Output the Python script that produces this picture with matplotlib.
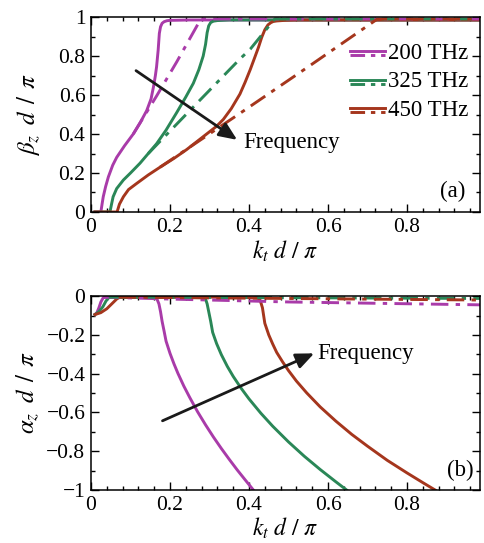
import matplotlib
matplotlib.use("Agg")
import matplotlib.pyplot as plt
from matplotlib.ticker import MultipleLocator, FuncFormatter

# ---------------------------
# DATA
# ---------------------------
freqs = ["200 THz", "325 THz", "450 THz"]
colors = ["#a93ba9", "#2a8757", "#a5361d"]

# (a) beta_z d / pi vs k_t d / pi, solid
beta_200_x = [0.010, 0.025, 0.028, 0.031, 0.037, 0.044, 0.055, 0.065, 0.085, 0.107, 0.125, 0.141,
              0.152, 0.158, 0.163, 0.166, 0.170, 0.173, 0.176, 0.180, 0.185, 0.192, 0.20, 0.25, 0.99]
beta_200_y = [0, 0, 0.04, 0.078, 0.13, 0.18, 0.24, 0.28, 0.34, 0.40, 0.46, 0.52,
              0.58, 0.64, 0.70, 0.745, 0.83, 0.916, 0.95, 0.968, 0.976, 0.981, 0.983, 0.985, 0.985]
beta_325_x = [0.010, 0.048, 0.052, 0.056, 0.065, 0.082, 0.10, 0.124, 0.145, 0.166, 0.19, 0.217,
              0.24, 0.259, 0.273, 0.284, 0.290, 0.294, 0.298, 0.303, 0.310, 0.32, 0.35, 0.99]
beta_325_y = [0, 0, 0.04, 0.078, 0.12, 0.164, 0.20, 0.25, 0.30, 0.35, 0.42, 0.51,
              0.59, 0.66, 0.73, 0.80, 0.86, 0.92, 0.955, 0.972, 0.979, 0.982, 0.985, 0.985]
beta_450_x = [0.010, 0.066, 0.072, 0.082, 0.095, 0.116, 0.145, 0.175, 0.21, 0.242, 0.28, 0.318,
              0.335, 0.355, 0.377, 0.39, 0.403, 0.414, 0.424, 0.432, 0.44, 0.448, 0.455, 0.461,
              0.47, 0.49, 0.52, 0.99]
beta_450_y = [0, 0, 0.04, 0.078, 0.115, 0.147, 0.19, 0.23, 0.275, 0.32, 0.38, 0.44,
              0.475, 0.53, 0.605, 0.665, 0.73, 0.79, 0.845, 0.895, 0.935, 0.96, 0.971, 0.977,
              0.980, 0.983, 0.985, 0.985]

# (a) dash-dot
beta_200_dd_x = [0.107, 0.166, 0.217, 0.278, 0.99]
beta_200_dd_y = [0.40, 0.595, 0.77, 0.99, 0.99]
beta_325_dd_x = [0.145, 0.25, 0.377, 0.403, 0.465, 0.99]
beta_325_dd_y = [0.30, 0.52, 0.785, 0.835, 0.99, 0.99]
beta_450_dd_x = [0.175, 0.377, 0.55, 0.725, 0.99]
beta_450_dd_y = [0.23, 0.506, 0.745, 0.99, 0.99]

# (b) alpha_z d / pi vs k_t d / pi, solid
alpha_200_x = [0.010, 0.015, 0.020, 0.025, 0.031, 0.040, 0.10, 0.160, 0.167, 0.172, 0.176, 0.180,
               0.185, 0.19, 0.20, 0.21, 0.22, 0.235, 0.25, 0.27, 0.29, 0.31, 0.33, 0.35, 0.37,
               0.39, 0.411]
alpha_200_y = [-0.095, -0.085, -0.06, -0.03, -0.008, -0.005, -0.005, -0.008, -0.015, -0.04, -0.08, -0.13,
               -0.18, -0.232, -0.295, -0.349, -0.398, -0.464, -0.523, -0.597, -0.664, -0.727, -0.786,
               -0.842, -0.896, -0.947, -1.0]
alpha_325_x = [0.010, 0.020, 0.030, 0.038, 0.045, 0.050, 0.10, 0.20, 0.285, 0.290, 0.294, 0.298,
               0.303, 0.308, 0.318, 0.33, 0.345, 0.36, 0.38, 0.40, 0.43, 0.46, 0.50, 0.54, 0.58,
               0.62, 0.647]
alpha_325_y = [-0.095, -0.08, -0.055, -0.025, -0.008, -0.005, -0.005, -0.005, -0.008, -0.015, -0.04, -0.08,
               -0.13, -0.187, -0.245, -0.302, -0.362, -0.414, -0.475, -0.530, -0.604, -0.671, -0.752,
               -0.826, -0.894, -0.958, -1.0]
alpha_450_x = [0.010, 0.025, 0.040, 0.055, 0.065, 0.072, 0.10, 0.30, 0.42, 0.428, 0.434, 0.44,
               0.45, 0.46, 0.47, 0.485, 0.50, 0.52, 0.546, 0.58, 0.62, 0.66, 0.70, 0.75, 0.80,
               0.84, 0.871]
alpha_450_y = [-0.095, -0.085, -0.065, -0.035, -0.015, -0.006, -0.005, -0.005, -0.008, -0.02, -0.06, -0.14,
               -0.20, -0.247, -0.29, -0.339, -0.384, -0.438, -0.499, -0.571, -0.645, -0.713, -0.774,
               -0.847, -0.912, -0.962, -1.0]

# (b) dash-dot
alpha_200_dd_x = [0.03, 0.2, 0.5, 0.99]
alpha_200_dd_y = [-0.005, -0.015, -0.03, -0.045]
alpha_325_dd_x = [0.045, 0.5, 0.99]
alpha_325_dd_y = [-0.005, -0.008, -0.012]
alpha_450_dd_x = [0.07, 0.5, 0.99]
alpha_450_dd_y = [-0.005, -0.012, -0.02]

# ---------------------------
# STYLE
# ---------------------------
plt.rcParams["font.family"] = ["Liberation Serif", "DejaVu Serif"]
plt.rcParams["mathtext.fontset"] = "stix"
plt.rcParams["font.size"] = 15.5

DASHDOT = (0, (6, 2.5, 1.5, 2.5))
LW = 2.1
TXT = 16.5

fig = plt.figure(figsize=(4.84, 5.43), dpi=100)
ax_a = fig.add_axes([0.188, 0.6096, 0.804, 0.359])
ax_b = fig.add_axes([0.188, 0.0976, 0.804, 0.357])


def fmt(v, pos):
    if abs(v - round(v)) < 1e-9:
        return "%d" % round(v) if round(v) >= 0 else "\u2212%d" % abs(round(v))
    s = "%.1f" % v
    return s.replace("-", "\u2212")


for ax in (ax_a, ax_b):
    ax.set_xlim(0, 0.985)
    ax.xaxis.set_major_locator(MultipleLocator(0.2))
    ax.xaxis.set_minor_locator(MultipleLocator(0.04))
    ax.yaxis.set_major_locator(MultipleLocator(0.2))
    ax.yaxis.set_minor_locator(MultipleLocator(0.1))
    ax.xaxis.set_major_formatter(FuncFormatter(fmt))
    ax.yaxis.set_major_formatter(FuncFormatter(fmt))
    ax.tick_params(which="both", direction="in", top=True, right=True, width=1.0)
    ax.tick_params(which="major", length=6, labelsize=15.5, pad=4)
    ax.tick_params(which="minor", length=3)
    for sp in ax.spines.values():
        sp.set_linewidth(1.1)
    ax.set_xlabel(r"$k_t\ d\ /\ \pi$", fontsize=17)
    ax.xaxis.set_label_coords(0.5, -0.135)
    ax.yaxis.set_label_coords(-0.125, 0.5)

# ---------------------------
# (a)
# ---------------------------
ax_a.set_ylim(0, 1)
for xs, ys, c in zip([beta_200_x, beta_325_x, beta_450_x],
                     [beta_200_y, beta_325_y, beta_450_y], colors):
    ax_a.plot(xs, ys, color=c, lw=LW)
for xs, ys, c in zip([beta_200_dd_x, beta_325_dd_x, beta_450_dd_x],
                     [beta_200_dd_y, beta_325_dd_y, beta_450_dd_y], colors):
    ax_a.plot(xs, ys, color=c, lw=LW, ls=DASHDOT)
ax_a.set_ylabel(r"$\beta_z\;\;d\;\,/\;\,\pi$", fontsize=18)

ax_a.annotate("", xy=(0.37, 0.37), xytext=(0.114, 0.725),
              arrowprops=dict(arrowstyle="-|>,head_length=0.7,head_width=0.3",
                              color="#1a1a1a", lw=2.0, shrinkA=0, shrinkB=0))
ax_a.text(0.385, 0.355, "Frequency", fontsize=TXT, va="center", ha="left")
ax_a.text(0.93, 0.105, "(a)", transform=ax_a.transAxes, fontsize=TXT, ha="center", va="center")

# legend, drawn by hand: solid over dash-dot for each frequency
leg_y = [0.815, 0.668, 0.523]
for lab, c, yy in zip(freqs, colors, leg_y):
    ax_a.plot([0.666, 0.756], [yy + 0.011, yy + 0.011], color=c, lw=LW, transform=ax_a.transAxes)
    ax_a.plot([0.666, 0.756], [yy - 0.011, yy - 0.011], color=c, lw=LW, ls=(0, (5, 2, 1.5, 2)),
              transform=ax_a.transAxes)
    ax_a.text(0.762, yy, lab, transform=ax_a.transAxes, fontsize=TXT, va="center", ha="left")

# ---------------------------
# (b)
# ---------------------------
ax_b.set_ylim(-1, 0)
for xs, ys, c in zip([alpha_200_x, alpha_325_x, alpha_450_x],
                     [alpha_200_y, alpha_325_y, alpha_450_y], colors):
    ax_b.plot(xs, ys, color=c, lw=LW)
for xs, ys, c in zip([alpha_200_dd_x, alpha_325_dd_x, alpha_450_dd_x],
                     [alpha_200_dd_y, alpha_325_dd_y, alpha_450_dd_y], colors):
    ax_b.plot(xs, ys, color=c, lw=LW, ls=DASHDOT)
ax_b.set_ylabel(r"$\alpha_z\;\;d\;\,/\;\,\pi$", fontsize=18)

ax_b.annotate("", xy=(0.565, -0.295), xytext=(0.181, -0.643),
              arrowprops=dict(arrowstyle="-|>,head_length=0.7,head_width=0.3",
                              color="#1a1a1a", lw=2.0, shrinkA=0, shrinkB=0))
ax_b.text(0.572, -0.295, "Frequency", fontsize=TXT, va="center", ha="left")
ax_b.text(0.948, 0.103, "(b)", transform=ax_b.transAxes, fontsize=TXT, ha="center", va="center")

fig.savefig("out.png", dpi=100)
